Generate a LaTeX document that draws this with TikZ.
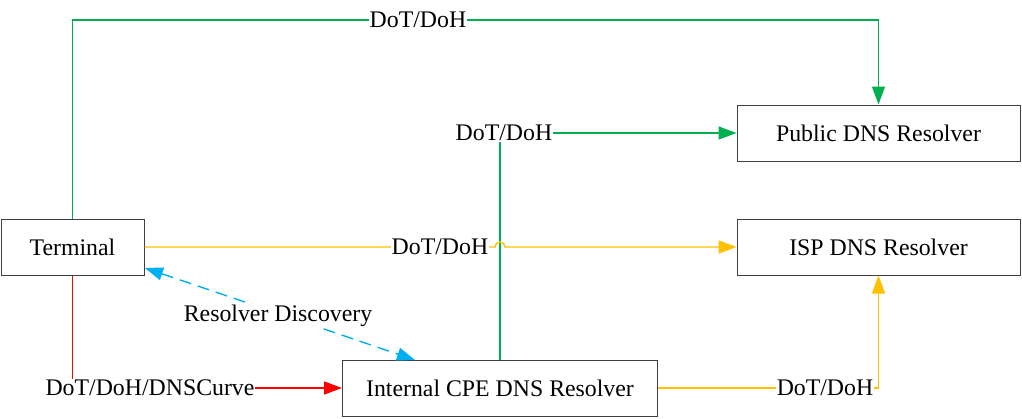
\documentclass[tikz,border=0pt]{standalone}
\usepackage{fontspec}
\setmainfont{Liberation Serif}
\usetikzlibrary{arrows.meta,calc}
\definecolor{cgreen}{HTML}{00B050}
\definecolor{cyel}{HTML}{FFC000}
\definecolor{cred}{HTML}{FF0000}
\definecolor{ccyan}{HTML}{00B0F0}
\definecolor{cbox}{HTML}{404040}
\begin{document}
\begin{tikzpicture}[x=0.5pt,y=-0.5pt,
  font=\fontsize{11.9}{14}\selectfont,
  box/.style={draw=cbox,line width=0.5pt,minimum height=28pt,inner sep=0pt,anchor=center},
  conn/.style={line width=0.7pt,-{Triangle[length=9pt,width=6.5pt]}},
  lbl/.style={fill=white,inner sep=0.5pt}]
\useasboundingbox (0,0) rectangle (1022,418);
\node[box,minimum width=71.5pt] (term) at (72.5,247) {Terminal};
\node[box,minimum width=141.5pt] (pub) at (878.5,133) {Public DNS Resolver};
\node[box,minimum width=141.5pt] (isp) at (878.5,247) {ISP DNS Resolver};
\node[box,minimum width=157.5pt] (cpe) at (500,388) {Internal CPE DNS Resolver};
% top green
\coordinate (tl) at (72.5,20);
\coordinate (tr) at (878.5,20);
\draw[conn,cgreen] (term.north) -- (tl) -- (tr) -- (pub.north);
\node[lbl] at (418,20) {DoT/DoH};
% CPE to public
\coordinate (cc) at (cpe.north |- pub.west);
\draw[conn,cgreen] (cpe.north) -- (cc) -- (pub.west);
\node[lbl] at (504,133) {DoT/DoH};
% terminal to ISP with hop
\coordinate (hop) at (cpe.north |- term.east);
\draw[conn,cyel] (term.east) -- ([xshift=-2.5pt]hop) arc[start angle=180,end angle=0,radius=2.5pt] -- (isp.west);
\node[lbl] at (440,247) {DoT/DoH};
% CPE to ISP
\coordinate (br) at (isp.south |- cpe.east);
\draw[conn,cyel] (cpe.east) -- (br) -- (isp.south);
\node[lbl] at (825,388) {DoT/DoH};
% red
\coordinate (bl) at (term.south |- cpe.west);
\draw[conn,cred] (term.south) -- (bl) -- (cpe.west);
\node[lbl] at (150,388) {DoT/DoH/DNSCurve};
% cyan dashed
\coordinate (ct) at (145,268);
\coordinate (cb) at (415,360);
\draw[line width=0.7pt,ccyan,dash pattern=on 6pt off 3.5pt,{Triangle[length=9pt,width=6.5pt]}-{Triangle[length=9pt,width=6.5pt]}] (ct) -- (cb);
\node[lbl] at (278,316) {Resolver Discovery};
\end{tikzpicture}
\end{document}
